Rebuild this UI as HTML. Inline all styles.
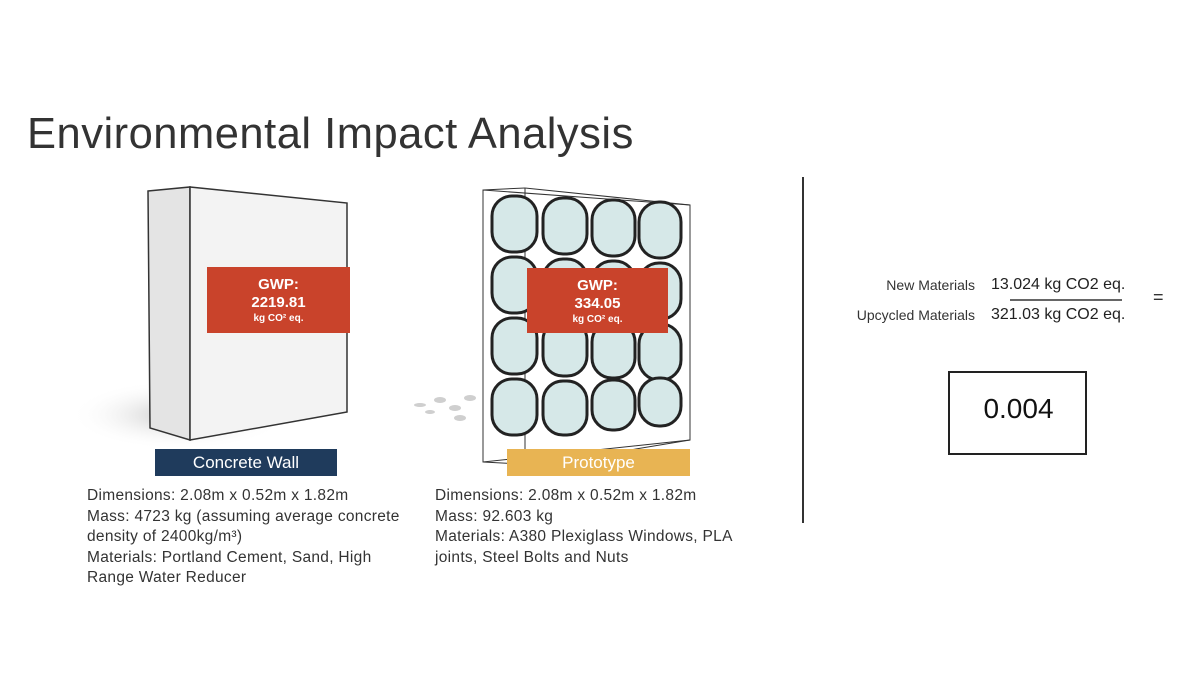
<!DOCTYPE html>
<html><head><meta charset="utf-8"><style>
body{margin:0;width:1200px;height:675px;background:#fff;position:relative;overflow:hidden;font-family:"Liberation Sans",sans-serif;color:#333}
.a{position:absolute}
.t{left:27px;top:110px;font-size:43.5px;color:#333;letter-spacing:0.5px}
.red{background:#c9432b;color:#fff;text-align:center;font-weight:bold}
.desc{font-size:15.5px;line-height:20.5px;color:#333;letter-spacing:0.3px}
</style></head><body>
<div class="a t">Environmental Impact Analysis</div>
<svg class="a" style="left:0;top:0" width="1200" height="675">
<defs><radialGradient id="sh" cx="0.5" cy="0.5" r="0.5"><stop offset="0" stop-color="#777" stop-opacity="0.7"/><stop offset="1" stop-color="#fff" stop-opacity="0"/></radialGradient></defs>
<ellipse cx="180" cy="415" rx="110" ry="35" fill="url(#sh)" opacity="0.6"/>
<polygon points="148,191 190,187 190,440 150,428" fill="#e4e4e4" stroke="#333" stroke-width="1.5"/>
<polygon points="190,187 347,203 347,412 190,440" fill="#f3f3f3" stroke="#333" stroke-width="1.5"/>
<g fill="#bbb" opacity="0.7"><ellipse cx="420" cy="405" rx="6" ry="2"/><ellipse cx="440" cy="400" rx="6" ry="3"/><ellipse cx="455" cy="408" rx="6" ry="3"/><ellipse cx="470" cy="398" rx="6" ry="3"/><ellipse cx="460" cy="418" rx="6" ry="3"/><ellipse cx="430" cy="412" rx="5" ry="2"/></g>
<g stroke="#333" fill="none" stroke-width="1">
<polygon points="483,190 690,205 690,440 483,462"/>
<line x1="483" y1="190" x2="525" y2="188"/>
<line x1="525" y1="188" x2="690" y2="205"/>
<line x1="525" y1="188" x2="525" y2="460"/>
<line x1="483" y1="462" x2="540" y2="465"/>
<line x1="540" y1="465" x2="690" y2="440"/>
</g>
<g stroke="#222" stroke-width="3" fill="#d6e8e8">
<rect x="492" y="196" width="45" height="56" rx="20"/><rect x="543" y="198" width="44" height="56" rx="20"/><rect x="592" y="200" width="43" height="56" rx="20"/><rect x="639" y="202" width="42" height="56" rx="20"/>
<rect x="492" y="257" width="45" height="56" rx="20"/><rect x="543" y="259" width="44" height="56" rx="20"/><rect x="592" y="261" width="43" height="56" rx="20"/><rect x="639" y="263" width="42" height="56" rx="20"/>
<rect x="492" y="318" width="45" height="56" rx="20"/><rect x="543" y="320" width="44" height="56" rx="20"/><rect x="592" y="322" width="43" height="56" rx="20"/><rect x="639" y="324" width="42" height="56" rx="20"/>
<rect x="492" y="379" width="45" height="56" rx="20"/><rect x="543" y="381" width="44" height="54" rx="20"/><rect x="592" y="380" width="43" height="50" rx="20"/><rect x="639" y="378" width="42" height="48" rx="20"/>
</g>
<line x1="803" y1="177" x2="803" y2="523" stroke="#333" stroke-width="2"/>
<line x1="1010" y1="300" x2="1122" y2="300" stroke="#333" stroke-width="1.5"/>
<rect x="949" y="372" width="137" height="82" fill="none" stroke="#222" stroke-width="2"/>
</svg>
<div class="a red" style="left:207px;top:267px;width:143px;height:66px"><div style="font-size:15px;margin-top:9px;line-height:18px">GWP:<br>2219.81</div><div style="font-size:10px;line-height:13px">kg CO² eq.</div></div>
<div class="a red" style="left:527px;top:268px;width:141px;height:65px"><div style="font-size:15px;margin-top:9px;line-height:18px">GWP:<br>334.05</div><div style="font-size:10px;line-height:13px">kg CO² eq.</div></div>
<div class="a" style="left:155px;top:449px;width:182px;height:27px;background:#1f3b5c;color:#fff;font-size:17px;text-align:center;line-height:28px">Concrete Wall</div>
<div class="a" style="left:507px;top:449px;width:183px;height:27px;background:#e8b453;color:#fff;font-size:17px;text-align:center;line-height:28px">Prototype</div>
<div class="a desc" style="left:87px;top:486px;width:330px">Dimensions: 2.08m x 0.52m x 1.82m<br>Mass: 4723 kg (assuming average concrete density of 2400kg/m³)<br>Materials: Portland Cement, Sand, High Range Water Reducer</div>
<div class="a desc" style="left:435px;top:486px;width:310px">Dimensions: 2.08m x 0.52m x 1.82m<br>Mass: 92.603 kg<br>Materials: A380 Plexiglass Windows, PLA joints, Steel Bolts and Nuts</div>
<div class="a" style="left:820px;top:277px;width:155px;text-align:right;font-size:14px;color:#333">New Materials</div>
<div class="a" style="left:820px;top:307px;width:155px;text-align:right;font-size:14px;color:#333">Upcycled Materials</div>
<div class="a" style="left:991px;top:276px;font-size:16px;color:#222">13.024 kg CO2 eq.</div>
<div class="a" style="left:991px;top:306px;font-size:16px;color:#222">321.03 kg CO2 eq.</div>
<div class="a" style="left:1153px;top:287px;font-size:18px;color:#333">=</div>
<div class="a" style="left:949px;top:393px;width:139px;text-align:center;font-size:28px;color:#111">0.004</div>
</body></html>
